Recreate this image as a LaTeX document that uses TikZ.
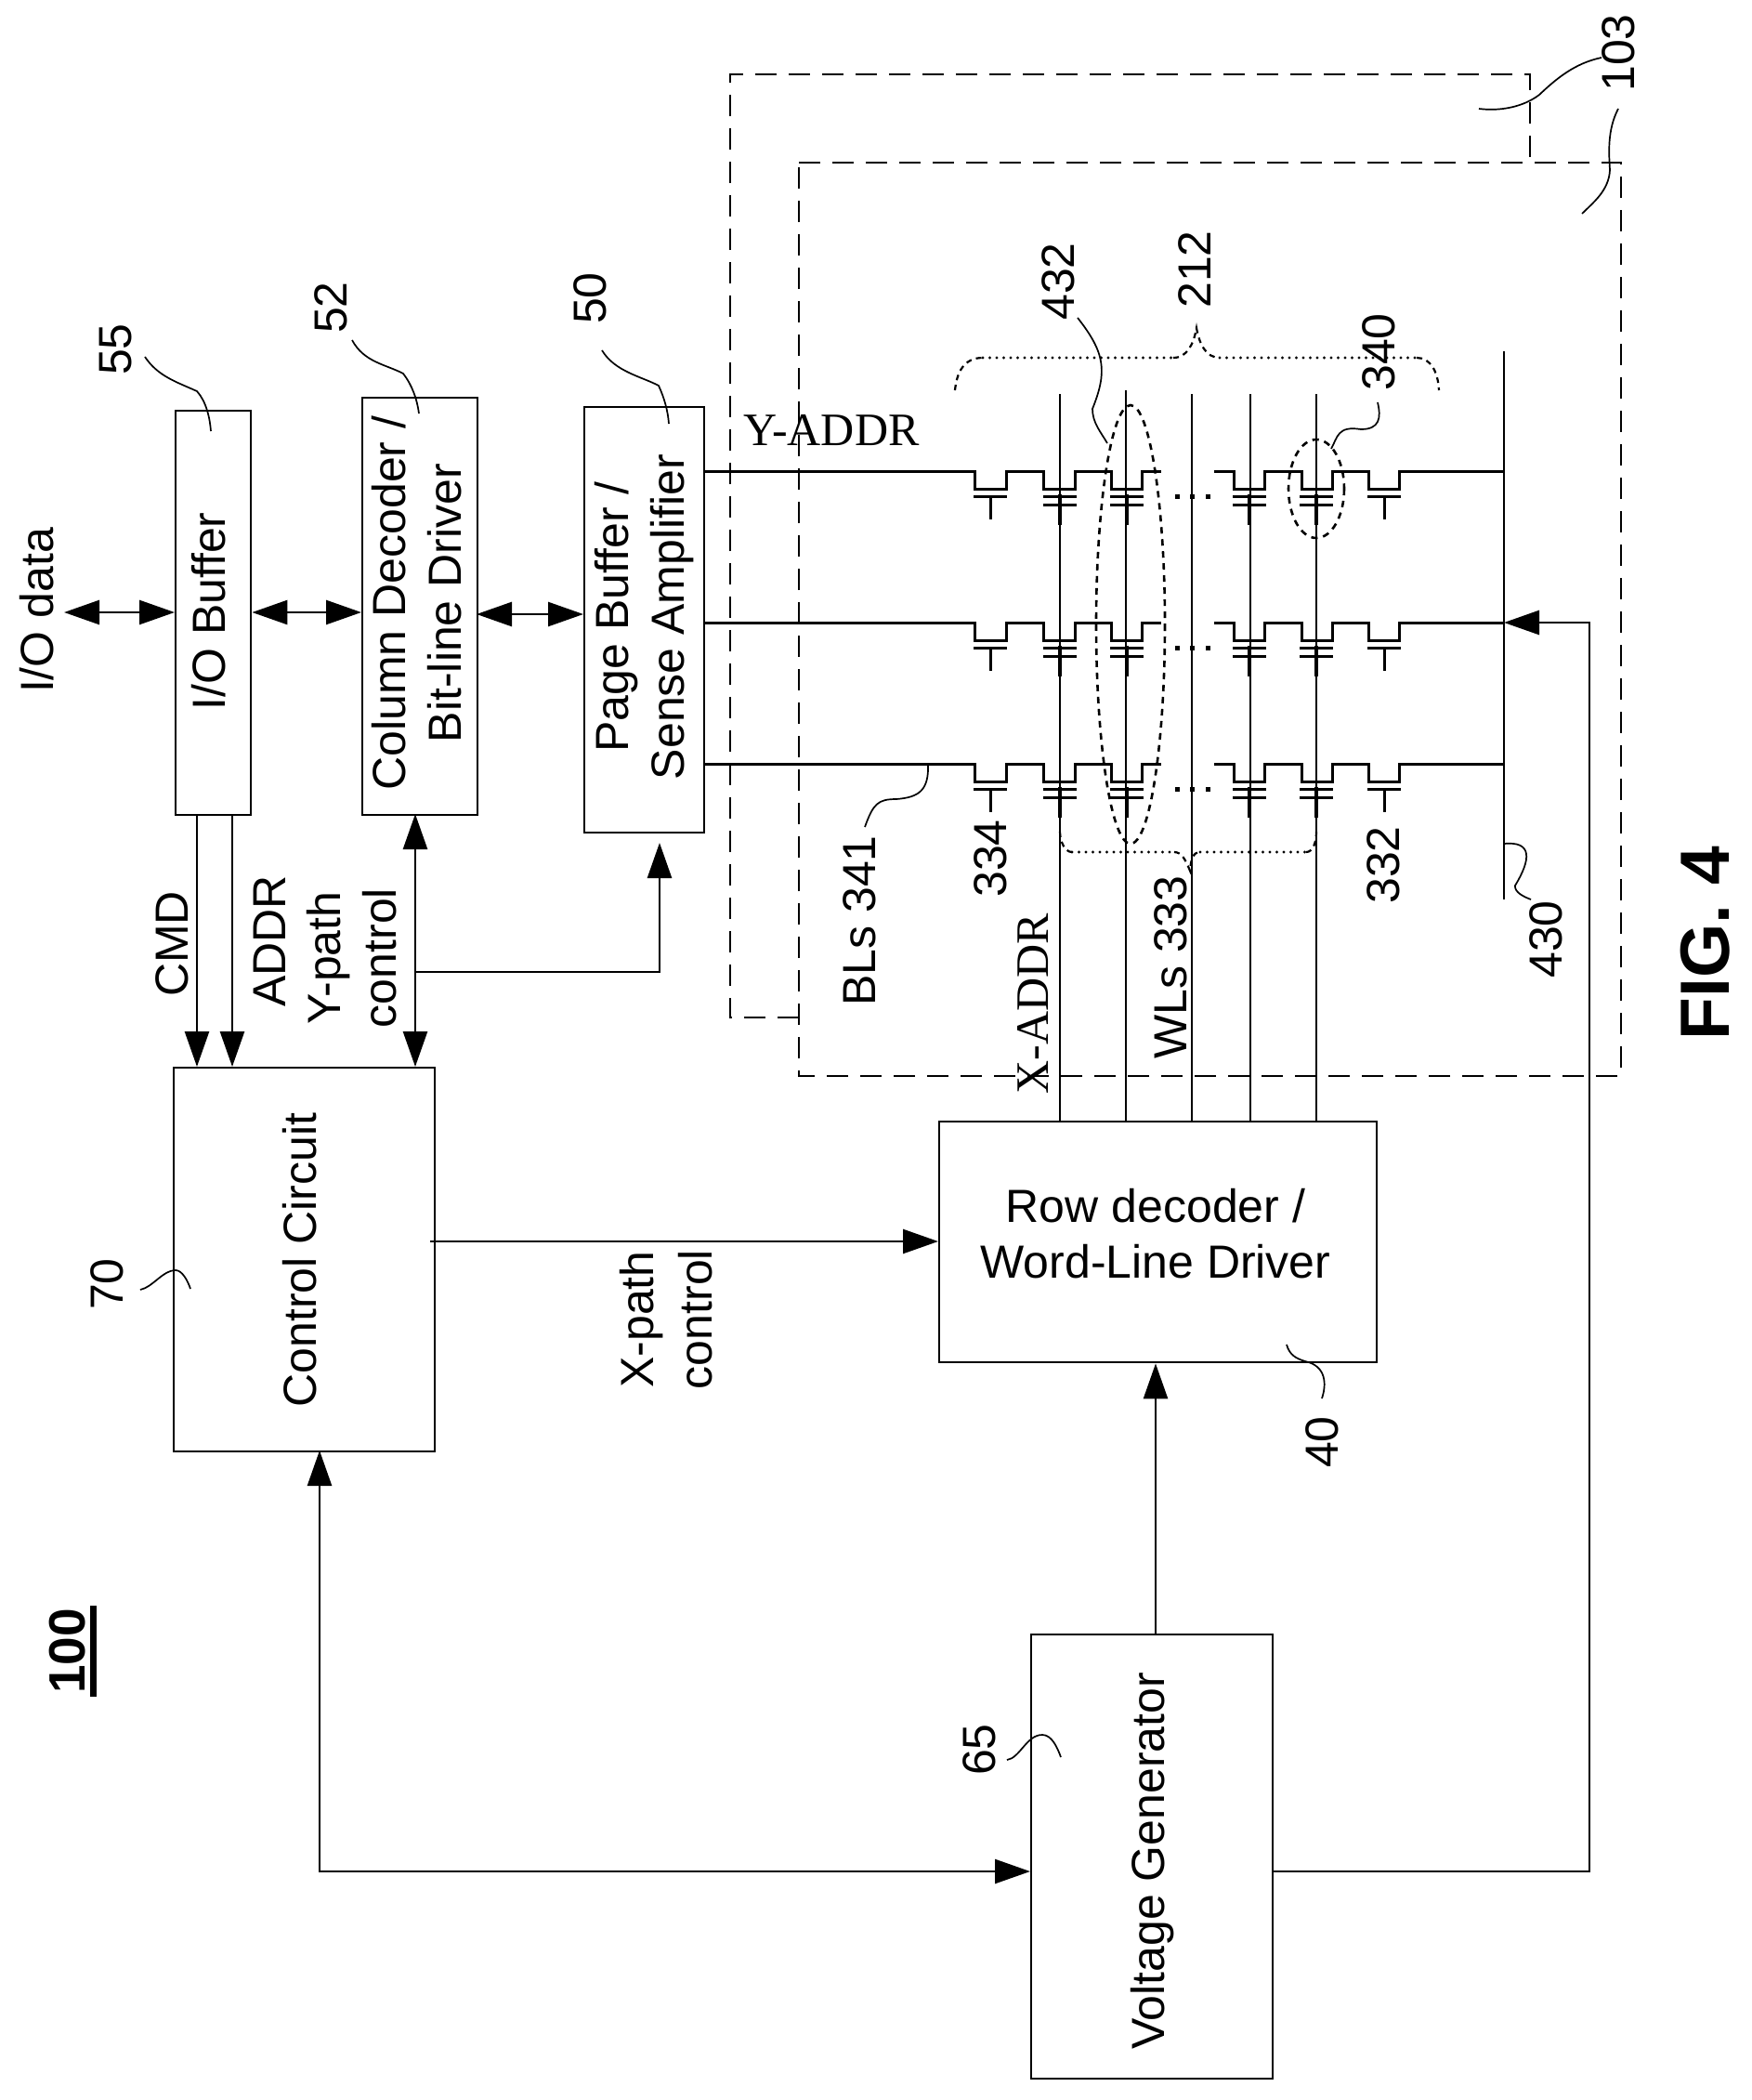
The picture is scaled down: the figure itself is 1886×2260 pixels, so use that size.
\documentclass[tikz,border=0pt]{standalone}
\usepackage{fontspec}
\setmainfont{Liberation Sans}
\newfontfamily\serifface{Liberation Serif}
\usetikzlibrary{arrows.meta}
\newcommand{\cellrow}[1]{%
  \draw[wire] (bl#1) -- (1049,#1) -- ++(0,19) -- ++(34,0) -- ++(0,-19) -- (1123,#1) -- ++(0,19) -- ++(34,0) -- ++(0,-19) -- (1196,#1) -- ++(0,19) -- ++(33,0) -- ++(0,-19) -- (1250,#1);
  \draw[wire] (1307,#1) -- (1328,#1) -- ++(0,19) -- ++(33,0) -- ++(0,-19) -- (1401,#1) -- ++(0,19) -- ++(33,0) -- ++(0,-19) -- (1473,#1) -- ++(0,19) -- ++(33,0) -- ++(0,-19) -- (sl#1);
  \foreach \gx in {1066,1490}{\draw[wire] (\gx-18,#1+27) -- (\gx+18,#1+27) (\gx,#1+27) -- (\gx,#1+52);}
  \foreach \gx in {1141,1213,1345,1417}{\draw[wire] (\gx-18,#1+27) -- (\gx+18,#1+27) (\gx-18,#1+36) -- (\gx+18,#1+36);
    \draw[line width=4pt] (\gx,#1+25) -- (\gx,#1+58);}
  \foreach \gx in {1267,1283,1300}{\fill (\gx-2.5,#1+25) rectangle (\gx+2.5,#1+30);}
}
\tikzset{
  box/.style={draw,line width=2.4pt,anchor=north west,inner sep=0pt},
  wire/.style={line width=3pt,line join=miter},
  thin wire/.style={line width=2.4pt},
  arrow/.style={line width=2.6pt,-{Triangle[length=38pt,width=26pt]}},
  darrow/.style={line width=2.6pt,{Triangle[length=38pt,width=26pt]}-{Triangle[length=38pt,width=26pt]}},
  lead/.style={line width=1.7pt},
  dashbox/.style={line width=2.8pt,dash pattern=on 23pt off 13pt},
  oval/.style={line width=2.6pt,dash pattern=on 7pt off 6pt},
  dotline/.style={line width=3.4pt,line cap=round,dash pattern=on 0pt off 7.5pt},
  dashcurve/.style={line width=2.2pt,dash pattern=on 6pt off 5pt},
  lab/.style={font=\fontsize{50}{60}\selectfont,inner sep=0pt,align=center},
  vlab/.style={lab,rotate=90},
  serif/.style={font=\fontsize{50}{58}\selectfont\serifface,inner sep=0pt},
}
\begin{document}
\begin{tikzpicture}[x=1pt,y=-1pt]
\useasboundingbox (0,0) rectangle (1886,2260);
\fill[white] (0,0) rectangle (1886,2260);
% boxes
\node[box,minimum width=81pt,minimum height=435pt] (iob) at (188,441) {};
\node[box,minimum width=124pt,minimum height=449pt] (col) at (389,427) {};
\node[box,minimum width=129pt,minimum height=458pt] (pag) at (628,437) {};
\node[box,minimum width=281pt,minimum height=413pt] (ctl) at (186,1148) {};
\node[box,minimum width=471pt,minimum height=259pt] (row) at (1010,1206) {};
\node[box,minimum width=260pt,minimum height=478pt] (vg) at (1109,1758) {};
\node[vlab] (tiob) at (225,658) {I/O Buffer};
\node[vlab] (tcol) at (449,649) {Column Decoder /\\Bit-line Driver};
\node[vlab] (tpag) at (694,664) {Page Buffer /\\Sense Amplifier};
\node[vlab] (tctl) at (323,1356) {Control Circuit};
\node[lab] (trow) at (1244,1328) {Row decoder /\\Word-Line Driver};
\node[vlab] (tvg) at (1241,2003) {Voltage Generator};
% dashed frames
\coordinate (oa) at (860,1095); \coordinate (ob) at (786,1095); \coordinate (oc) at (786,80); \coordinate (od) at (1647,80); \coordinate (oe) at (1647,175);
\draw[dashbox] (oa) -- (ob) -- (oc) -- (od) -- (oe);
\coordinate (ia) at (860,175); \coordinate (ib) at (1745,175); \coordinate (ic) at (1745,1158); \coordinate (id) at (860,1158);
\draw[dashbox] (ia) -- (ib) -- (ic) -- (id) -- cycle;
% word lines
\foreach \n/\wx/\wy in {a/1141/424,b/1212/420,c/1283/424,d/1346/424,e/1417/424}{
  \coordinate (wt\n) at (\wx,\wy);
  \coordinate (wb\n) at (\wx,1206);
  \draw[thin wire] (wt\n) -- (wb\n);
}
\coordinate (slt) at (1619,378); \coordinate (slb) at (1619,968);
\draw[thin wire] (slt) -- (slb);
\foreach \r in {507,670,822}{
  \coordinate (bl\r) at (757,\r);
  \coordinate (sl\r) at (1619,\r);
  \cellrow{\r}
}
% arrows
\coordinate (io) at (69,659);
\draw[darrow] (io) -- (iob.west |- io);
\draw[darrow] (iob.east |- io) -- (col.west |- io);
\coordinate (io2) at (513,661);
\draw[darrow] (io2) -- (pag.west |- io2);
\coordinate (cx) at (212,876); \coordinate (ax) at (250,876); \coordinate (yx) at (447,876);
\draw[arrow] (cx) -- (cx |- ctl.north);
\draw[arrow] (ax) -- (ax |- ctl.north);
\draw[darrow] (yx) -- (yx |- ctl.north);
\coordinate (yb) at (447,1046); \coordinate (ybr) at (710,1046); \coordinate (ybt) at (710,907);
\draw[arrow] (yb) -- (ybr) -- (ybt);
\coordinate (xp) at (463,1336);
\draw[arrow] (xp) -- (row.west |- xp);
\coordinate (vgt) at (1244,1758);
\draw[arrow] (vgt) -- (vgt |- row.south);
\coordinate (cb) at (344,1561); \coordinate (vc) at (344,2014);
\draw[darrow] (cb) -- (vc) -- (vg.west |- vc);
\coordinate (vr) at (1711,2014); \coordinate (vu) at (1711,670); \coordinate (slm) at (1619,670);
\draw[arrow] (vg.east |- vr) -- (vr) -- (vu) -- (slm);
% ellipses and braces
\draw[oval] (1217,672) ellipse [x radius=37,y radius=236];
\draw[oval] (1417,526) ellipse [x radius=30,y radius=53];
\coordinate (ba) at (1028,420); \coordinate (bb) at (1549,420); \coordinate (bt) at (1288,353);
\draw[dashcurve] (ba) .. controls (1030,400) and (1038,385) .. (1058,385);
\draw[dotline] (1058,385) -- (1263,385);
\draw[dashcurve] (1263,385) .. controls (1278,385) and (1285,370) .. (bt) .. controls (1291,370) and (1298,385) .. (1313,385);
\draw[dotline] (1313,385) -- (1525,385);
\draw[dashcurve] (1525,385) .. controls (1540,385) and (1548,400) .. (bb);
\coordinate (la) at (1141,895); \coordinate (lb) at (1417,895); \coordinate (lt) at (1281,937);
\draw[dashcurve] (la) .. controls (1141,905) and (1146,917) .. (1154,917);
\draw[dotline] (1154,917) -- (1264,917);
\draw[dashcurve] (1264,917) .. controls (1272,917) and (1276,925) .. (lt) .. controls (1282,925) and (1284,917) .. (1292,917);
\draw[dotline] (1292,917) -- (1406,917);
\draw[dashcurve] (1406,917) .. controls (1414,917) and (1417,905) .. (lb);
% labels
\node[vlab] (n1) at (40,657) {I/O data};
\node[vlab] (n2) at (185,1016) {CMD};
\node[vlab] (n3) at (290,1013) {ADDR};
\node[vlab] (n4) at (354,1031) {Y-path};
\node[vlab] (n5) at (409,1031) {control};
\node[vlab] (n6) at (691,1420) {X-path};
\node[vlab] (n7) at (749,1420) {control};
\node[vlab] (n8) at (925,991) {BLs 341};
\node[vlab] (n9) at (1260,1041) {WLs 333};
\node[serif,rotate=90] (n10) at (1112,1080) {X-ADDR};
\node[serif] (n11) at (895,463) {Y-ADDR};
\node[vlab] (n12) at (125,376) {55};
\node[vlab] (n13) at (356,331) {52};
\node[vlab] (n14) at (635,321) {50};
\node[vlab] (n15) at (1139,303) {432};
\node[vlab] (n16) at (1286,290) {212};
\node[vlab] (n17) at (1484,379) {340};
\node[vlab] (n18) at (1742,57) {103};
\node[vlab] (n19) at (1066,924) {334};
\node[vlab] (n20) at (1489,931) {332};
\node[vlab] (n21) at (1664,1011) {430};
\node[vlab] (n22) at (1423,1552) {40};
\node[vlab] (n23) at (115,1382) {70};
\node[vlab] (n24) at (1054,1883) {65};
\node[rotate=90,font=\fontsize{55}{60}\selectfont\bfseries,inner sep=0pt] (n25) at (73,1777) {100};
\fill (97,1728) rectangle (104,1826);
\node[rotate=90,font=\fontsize{75}{80}\selectfont\bfseries,inner sep=0pt] (n26) at (1836,1015) {FIG. 4};
% leaders
\draw[lead] (156,384) .. controls (170,405) and (190,411) .. (212,421) .. controls (222,432) and (226,450) .. (227,464);
\draw[lead] (379,366) .. controls (392,390) and (415,392) .. (434,402) .. controls (444,415) and (449,430) .. (451,445);
\draw[lead] (648,377) .. controls (662,400) and (690,405) .. (709,415) .. controls (715,428) and (719,442) .. (720,456);
\draw[lead] (1160,342) .. controls (1190,380) and (1192,400) .. (1176,440) .. controls (1176,455) and (1185,465) .. (1192,477);
\draw[lead] (1483,433) .. controls (1487,450) and (1485,462) .. (1465,462) .. controls (1440,458) and (1440,470) .. (1433,483);
\draw[lead] (1724,62) .. controls (1695,68) and (1675,85) .. (1657,102) .. controls (1640,115) and (1615,120) .. (1592,117);
\draw[lead] (1742,117) .. controls (1730,140) and (1732,165) .. (1733,183) .. controls (1732,205) and (1715,218) .. (1703,230);
\draw[lead] (999,822) .. controls (1000,850) and (990,858) .. (965,860) .. controls (945,860) and (940,865) .. (931,890);
\draw[lead] (1619,908) .. controls (1650,905) and (1648,925) .. (1631,953) .. controls (1630,960) and (1640,965) .. (1648,968);
\draw[lead] (1385,1447) .. controls (1388,1458) and (1395,1462) .. (1405,1465) .. controls (1428,1470) and (1428,1490) .. (1423,1505);
\draw[lead] (151,1388) .. controls (165,1385) and (175,1367) .. (189,1367) .. controls (196,1367) and (202,1378) .. (205,1387);
\draw[lead] (1084,1894) .. controls (1098,1892) and (1105,1867) .. (1122,1867) .. controls (1132,1867) and (1138,1880) .. (1142,1891);
\end{tikzpicture}
\end{document}
